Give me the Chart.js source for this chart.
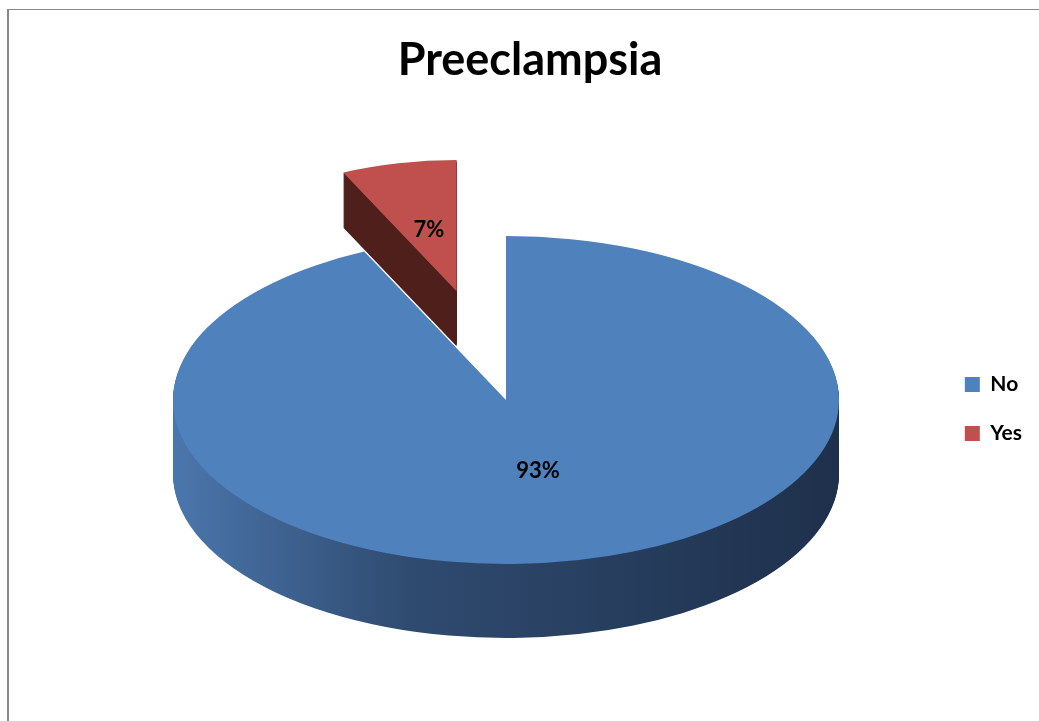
<!DOCTYPE html>
<html>
<head>
<meta charset="utf-8">
<script src="https://cdn.jsdelivr.net/npm/chart.js@4/dist/chart.umd.min.js"></script>
<style>
html, body { margin: 0; padding: 0; background: #fff; overflow: hidden; }
#frame { position: absolute; left: 7px; top: 9px; width: 1100px; height: 800px; border-left: 2px solid #888; border-top: 1px solid #888; }
#wrap { position: absolute; left: 0; top: 0; width: 1039px; height: 721px; }
</style>
</head>
<body>
<div id="frame"></div>
<div id="wrap"><canvas id="piechart"></canvas></div>
<script>
// data
var labels = ['No', 'Yes'];
var values = [93, 7];
var topColors = ['#4f81bd', '#c0504d'];
var sideColors = ['blueSide', '#4f1f1c'];

// look of the fake 3d pie (screen pixels / parts of radius)
var pieCenter = { x: 506, y: 400 };
var pieRadius = { x: 333, y: 164 };
var sliceDepth = [74, 55];     // the pulled out slice sits further back
var slicePull = [0, 0.68];     // how far each slice is pulled out
var sliceScale = [1, 0.8];     // "Yes" looks smaller, it is further away
var labelAt = [0.44, 0.38];    // label distance from tip

var total = values.reduce(function (a, b) { return a + b; }, 0);

function pieGeom(chart) {
    var arc = chart.getDatasetMeta(0).data[0];
    var r = arc.outerRadius;
    return { cx: arc.x, cy: arc.y, r: r, sx: pieRadius.x / r, sy: pieRadius.y / r };
}

function drawSlice(ctx, g, arc, i, fill, dy) {
    var mid = (arc.startAngle + arc.endAngle) / 2;
    var pull = slicePull[i] * g.r;
    ctx.save();
    ctx.translate(pieCenter.x, pieCenter.y + dy);
    ctx.scale(g.sx, g.sy);
    ctx.translate(Math.cos(mid) * pull, Math.sin(mid) * pull);
    ctx.scale(sliceScale[i], sliceScale[i]);
    ctx.translate(-g.cx, -g.cy);
    var old = arc.options.backgroundColor;
    if (fill) arc.options.backgroundColor = fill;
    arc.draw(ctx);
    arc.options.backgroundColor = old;
    ctx.restore();
}

var pie3d = {
    id: 'pie3d',
    beforeDatasetsDraw: function (chart) {
        var ctx = chart.ctx;
        var g = pieGeom(chart);
        var arcs = chart.getDatasetMeta(0).data;

        var blueSide = ctx.createLinearGradient(g.cx - g.r, 0, g.cx + g.r, 0);
        blueSide.addColorStop(0, '#4b76ad');
        blueSide.addColorStop(0.35, '#2f4b70');
        blueSide.addColorStop(1, '#1e304b');
        var sides = sideColors.map(function (c) { return c === 'blueSide' ? blueSide : c; });

        // side walls, from the bottom up
        var maxDepth = Math.max.apply(null, sliceDepth);
        for (var d = maxDepth; d >= 1; d--) {
            arcs.forEach(function (arc, i) {
                if (d <= sliceDepth[i]) drawSlice(ctx, g, arc, i, sides[i], d);
            });
        }
        // top faces
        arcs.forEach(function (arc, i) {
            drawSlice(ctx, g, arc, i, null, 0);
        });

        // percent labels
        ctx.save();
        ctx.fillStyle = '#000';
        ctx.font = 'bold 22px Lato';
        ctx.textAlign = 'center';
        ctx.textBaseline = 'middle';
        arcs.forEach(function (arc, i) {
            var mid = (arc.startAngle + arc.endAngle) / 2;
            var dist = (slicePull[i] + labelAt[i]) * g.r;
            var x = pieCenter.x + Math.cos(mid) * dist * g.sx;
            var y = pieCenter.y + Math.sin(mid) * dist * g.sy;
            ctx.fillText(Math.round(values[i] / total * 100) + '%', x, y);
        });
        ctx.restore();
        return false;
    }
};

var chart1 = document.getElementById('piechart');
var myChart1 = new Chart(chart1, {
    type: 'pie',
    data: {
        labels: labels,
        datasets: [{
            data: values,
            backgroundColor: topColors,
            borderWidth: 0,
            hoverOffset: 0
        }]
    },
    plugins: [pie3d],
    options: {
        responsive: true,
        maintainAspectRatio: false,
        animation: false,
        layout: {
            padding: { left: 28, right: 7, top: 0, bottom: 0 }
        },
        plugins: {
            legend: {
                display: true,
                position: 'right',
                fullSize: false,
                labels: {
                    boxWidth: 15,
                    boxHeight: 15,
                    padding: 28,
                    color: '#000',
                    font: { family: 'Lato', size: 21, weight: 'bold' }
                }
            },
            title: {
                display: true,
                text: 'Preeclampsia',
                color: '#000',
                padding: { top: 33, bottom: 10 },
                font: { family: 'Lato', size: 45, weight: 'bold' }
            },
            tooltip: { enabled: false }
        }
    }
});
</script>
</body>
</html>
